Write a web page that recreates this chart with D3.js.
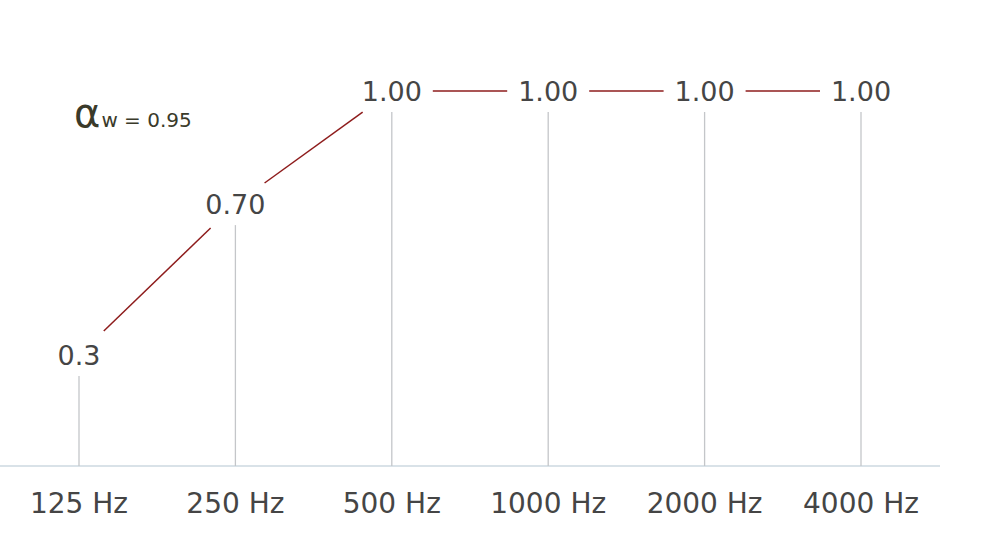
<!DOCTYPE html>
<html><head><meta charset="utf-8">
<script src="https://cdn.jsdelivr.net/npm/d3@7"></script>
<style>body{margin:0;background:#fff}svg{display:block}</style>
</head><body>
<script>
const categories = ["125 Hz","250 Hz","500 Hz","1000 Hz","2000 Hz","4000 Hz"];
const values = [0.3, 0.70, 1.00, 1.00, 1.00, 1.00];
const valueLabels = ["0.3","0.70","1.00","1.00","1.00","1.00"];
const alphaW = "0.95";

const W = 1000, H = 543;
const svg = d3.select("body").append("svg").attr("width", W).attr("height", H);
const font = "'DejaVu Sans', sans-serif";

const x = d3.scalePoint().domain(categories).range([79, 861]);
const y = d3.scaleLinear().domain([0, 1]).range([489, 112]);
const baseY = 466;

// baseline
svg.append("line").attr("x1", 0).attr("x2", 940).attr("y1", baseY).attr("y2", baseY)
  .attr("stroke", "#cdd8e0").attr("stroke-width", 1.5);

// vertical lines
svg.selectAll(".vl").data(categories).join("line")
  .attr("x1", d => x(d)).attr("x2", d => x(d))
  .attr("y1", (d, i) => y(values[i])).attr("y2", baseY)
  .attr("stroke", "#c4c6c9").attr("stroke-width", 1.3);

// red connecting segments with gaps around labels
const pts = categories.map((c, i) => [x(c), y(values[i]) - 21]);
const rx = 41, ry = 30;
function gap(dx, dy) {
  const L = Math.hypot(dx, dy), c = dx / L, s = dy / L;
  return 1 / Math.sqrt(c * c / (rx * rx) + s * s / (ry * ry));
}
const segs = d3.pairs(pts).map(([a, b]) => {
  const dx = b[0] - a[0], dy = b[1] - a[1], L = Math.hypot(dx, dy);
  const g = gap(dx, dy), ux = dx / L, uy = dy / L;
  return [a[0] + ux * g, a[1] + uy * g, b[0] - ux * g, b[1] - uy * g];
});
svg.selectAll(".seg").data(segs).join("line")
  .attr("x1", d => d[0]).attr("y1", d => d[1]).attr("x2", d => d[2]).attr("y2", d => d[3])
  .attr("stroke", "#8e1c1c").attr("stroke-width", 1.5);

// value labels
svg.selectAll(".vlab").data(valueLabels).join("text")
  .attr("x", (d, i) => pts[i][0]).attr("y", (d, i) => pts[i][1] + 10)
  .attr("text-anchor", "middle")
  .attr("font-family", font).attr("font-size", 27).attr("fill", "#454545")
  .text(d => d);

// category labels
svg.selectAll(".clab").data(categories).join("text")
  .attr("x", d => x(d)).attr("y", 513)
  .attr("text-anchor", "middle")
  .attr("font-family", font).attr("font-size", 28).attr("fill", "#454545")
  .text(d => d);

// alpha_w label
const t = svg.append("text").attr("x", 74).attr("y", 127)
  .attr("font-family", font).attr("fill", "#3a3a2a");
t.append("tspan").attr("font-size", 40).text("α");
t.append("tspan").attr("font-size", 20).attr("dx", 1).text("w = " + alphaW);
</script>
</body></html>
